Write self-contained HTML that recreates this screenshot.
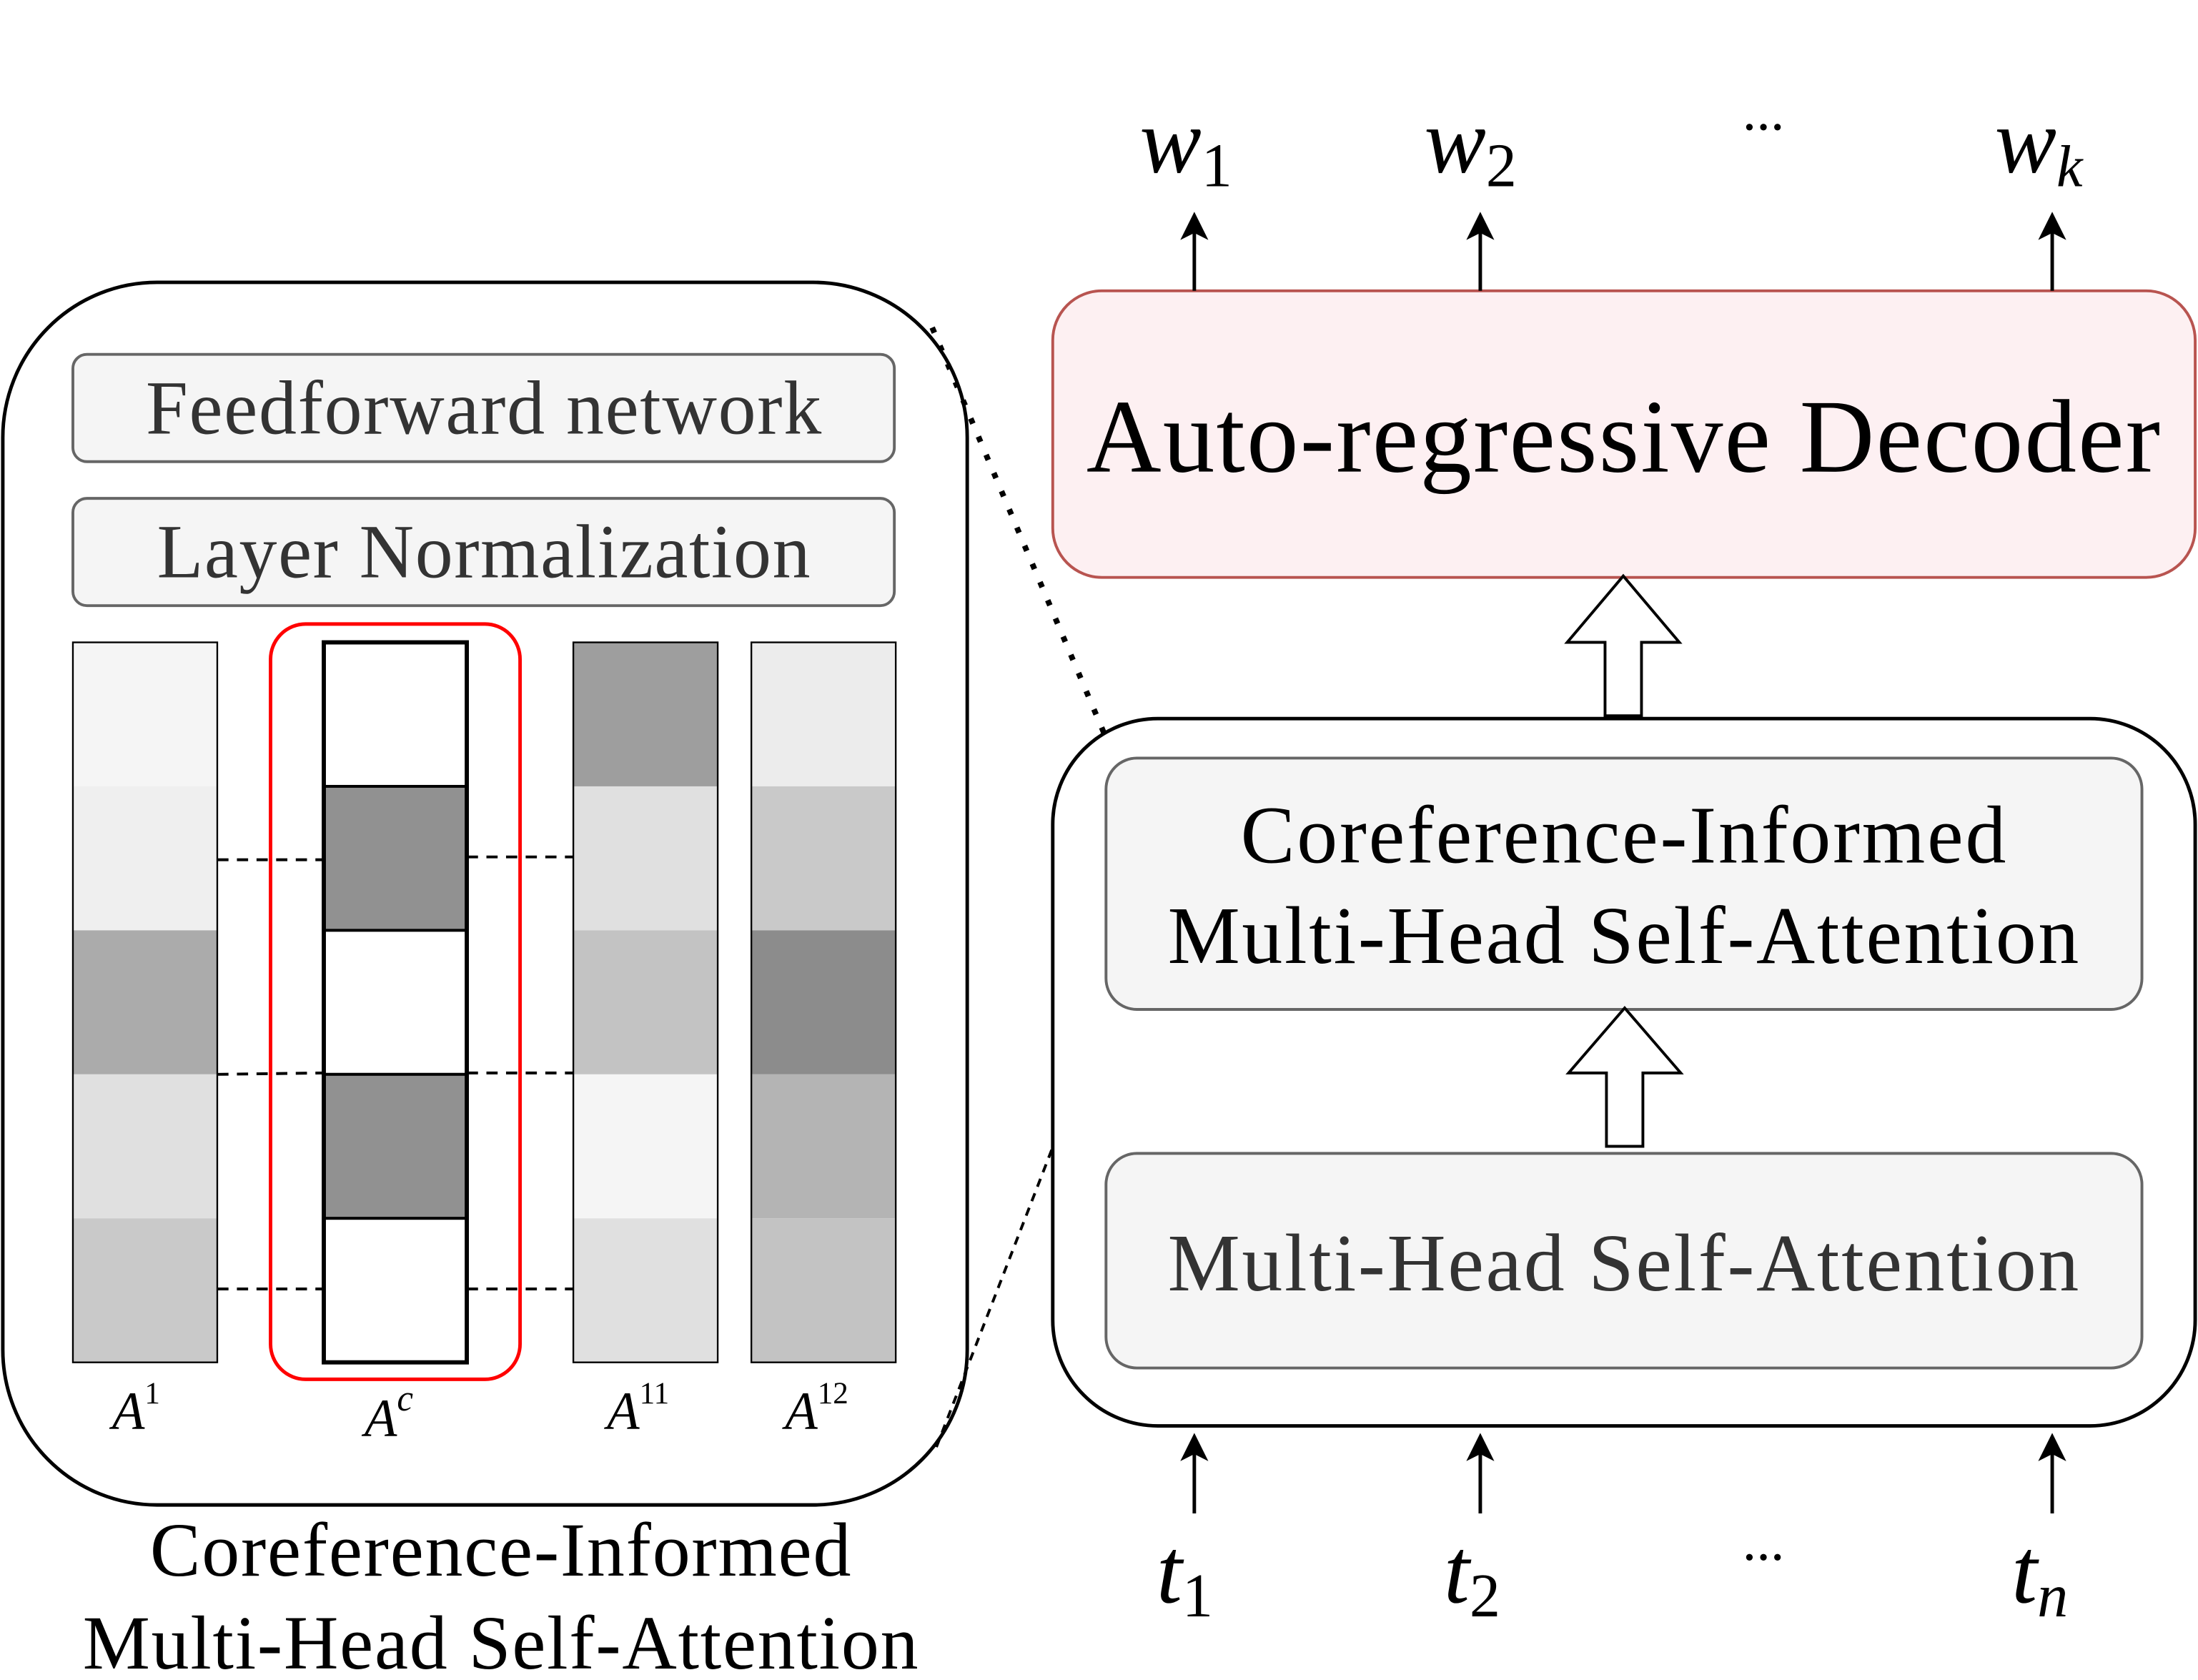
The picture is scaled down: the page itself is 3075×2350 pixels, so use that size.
<!DOCTYPE html>
<html><head><meta charset="utf-8"><style>html,body{margin:0;padding:0;background:#fff}svg{display:block}</style></head>
<body>
<svg width="3075" height="2350" viewBox="0 0 1568 1190" preserveAspectRatio="none" xmlns="http://www.w3.org/2000/svg" font-family="Liberation Serif, serif">
<defs><marker id="ah" markerWidth="20" markerHeight="20" refX="14" refY="10" orient="auto" markerUnits="userSpaceOnUse"><path d="M0,0 L20,10 L0,20 L5,10 z" fill="#000"/></marker></defs>
<rect x="2" y="200" width="688" height="866" rx="110" fill="#fff" stroke="#000" stroke-width="2.5"/>
<rect x="52" y="251" width="586" height="76" rx="10" fill="#f5f5f5" stroke="#666" stroke-width="2"/>
<text x="345" y="307" font-size="54" text-anchor="middle" fill="#333" textLength="482">Feedforward network</text>
<rect x="52" y="353" width="586" height="76" rx="10" fill="#f5f5f5" stroke="#666" stroke-width="2"/>
<text x="345" y="409" font-size="54" text-anchor="middle" fill="#333" textLength="466">Layer Normalization</text>
<g stroke="none">
<rect x="52" y="455" width="103" height="102" fill="#f5f5f5"/><rect x="52" y="557" width="103" height="102" fill="#efefef"/><rect x="52" y="659" width="103" height="102" fill="#ababab"/><rect x="52" y="761" width="103" height="102" fill="#e0e0e0"/><rect x="52" y="863" width="103" height="102" fill="#c9c9c9"/>
<rect x="409" y="455" width="103" height="102" fill="#9e9e9e"/><rect x="409" y="557" width="103" height="102" fill="#e0e0e0"/><rect x="409" y="659" width="103" height="102" fill="#c3c3c3"/><rect x="409" y="761" width="103" height="102" fill="#f5f5f5"/><rect x="409" y="863" width="103" height="102" fill="#e0e0e0"/>
<rect x="536" y="455" width="103" height="102" fill="#ececec"/><rect x="536" y="557" width="103" height="102" fill="#c9c9c9"/><rect x="536" y="659" width="103" height="102" fill="#8c8c8c"/><rect x="536" y="761" width="103" height="102" fill="#b4b4b4"/><rect x="536" y="863" width="103" height="102" fill="#c3c3c3"/>
</g>
<rect x="52" y="455" width="103" height="510" fill="none" stroke="#000" stroke-width="1.2"/>
<rect x="409" y="455" width="103" height="510" fill="none" stroke="#000" stroke-width="1.2"/>
<rect x="536" y="455" width="103" height="510" fill="none" stroke="#000" stroke-width="1.2"/>
<rect x="193" y="442" width="178" height="535" rx="25" fill="none" stroke="#f00" stroke-width="2.5"/>
<g stroke="#000" stroke-width="2">
<rect x="231" y="455" width="102" height="102" fill="#fff"/><rect x="231" y="557" width="102" height="102" fill="#919191"/><rect x="231" y="659" width="102" height="102" fill="#fff"/><rect x="231" y="761" width="102" height="102" fill="#919191"/><rect x="231" y="863" width="102" height="102" fill="#fff"/>
</g>
<rect x="231" y="455" width="102" height="510" fill="none" stroke="#000" stroke-width="3"/>
<g stroke="#000" stroke-width="2" stroke-dasharray="8,6">
<line x1="155" y1="609" x2="231" y2="609"/><line x1="333" y1="607" x2="409" y2="607"/>
<line x1="155" y1="761" x2="231" y2="760"/><line x1="333" y1="760" x2="409" y2="760"/>
<line x1="155" y1="913" x2="231" y2="913"/><line x1="333" y1="913" x2="409" y2="913"/>
</g>
<g font-style="italic" font-size="38">
<text x="80" y="1012">A<tspan font-size="22" font-style="normal" dy="-18">1</tspan></text>
<text x="260" y="1017">A<tspan font-size="26" dy="-18">c</tspan></text>
<text x="433" y="1012">A<tspan font-size="22" font-style="normal" dy="-18">11</tspan></text>
<text x="560" y="1012">A<tspan font-size="22" font-style="normal" dy="-18">12</tspan></text>
</g>
<text x="357" y="1116" font-size="54" text-anchor="middle" textLength="500">Coreference-Informed</text>
<text x="357" y="1182" font-size="54" text-anchor="middle" textLength="596">Multi-Head Self-Attention</text>
<line x1="665" y1="232" x2="790" y2="525" stroke="#000" stroke-width="4" stroke-dasharray="4,10"/>
<line x1="668" y1="1025" x2="795" y2="700" stroke="#000" stroke-width="2" stroke-dasharray="6,5"/>
<rect x="751" y="206" width="815" height="203" rx="35" fill="#fdf0f2" stroke="#b85450" stroke-width="2"/>
<text x="1158" y="334" font-size="74" text-anchor="middle" textLength="766">Auto-regressive Decoder</text>
<g stroke="#000" stroke-width="2.5" marker-end="url(#ah)">
<line x1="852" y1="206" x2="852" y2="156"/><line x1="1056" y1="206" x2="1056" y2="156"/><line x1="1464" y1="206" x2="1464" y2="156"/>
<line x1="852" y1="1072" x2="852" y2="1021"/><line x1="1056" y1="1072" x2="1056" y2="1021"/><line x1="1464" y1="1072" x2="1464" y2="1021"/>
</g>
<g font-style="italic" font-size="66">
<text x="813" y="122">w<tspan font-style="normal" font-size="44" dy="10">1</tspan></text>
<text x="1016" y="122">w<tspan font-style="normal" font-size="44" dy="10">2</tspan></text>
<text x="1423" y="122">w<tspan font-size="42" dy="10">k</tspan></text>
<text x="825" y="1135">t<tspan font-style="normal" font-size="44" dy="10">1</tspan></text>
<text x="1030" y="1135">t<tspan font-style="normal" font-size="44" dy="10">2</tspan></text>
<text x="1435" y="1135">t<tspan font-size="44" dy="10">n</tspan></text>
</g>
<text x="1258" y="92" font-size="40" text-anchor="middle">...</text>
<text x="1258" y="1105" font-size="40" text-anchor="middle">...</text>
<rect x="751" y="509" width="815" height="501" rx="75" fill="#fff" stroke="#000" stroke-width="2.5"/>
<rect x="789" y="537" width="739" height="178" rx="22" fill="#f5f5f5" stroke="#666" stroke-width="2"/>
<text x="1158" y="611" font-size="58" text-anchor="middle" textLength="546">Coreference-Informed</text>
<text x="1158" y="682" font-size="58" text-anchor="middle" textLength="650">Multi-Head Self-Attention</text>
<rect x="789" y="817" width="739" height="152" rx="22" fill="#f5f5f5" stroke="#666" stroke-width="2"/>
<text x="1158" y="914" font-size="58" text-anchor="middle" fill="#333" textLength="650">Multi-Head Self-Attention</text>
<path d="M1145,507 L1145,455 L1118,455 L1158,408 L1198,455 L1171,455 L1171,507 Z" fill="#fff" stroke="#000" stroke-width="2"/>
<path d="M1146,812 L1146,760 L1119,760 L1159,714 L1199,760 L1172,760 L1172,812 Z" fill="#fff" stroke="#000" stroke-width="2"/>
</svg>
</body></html>
